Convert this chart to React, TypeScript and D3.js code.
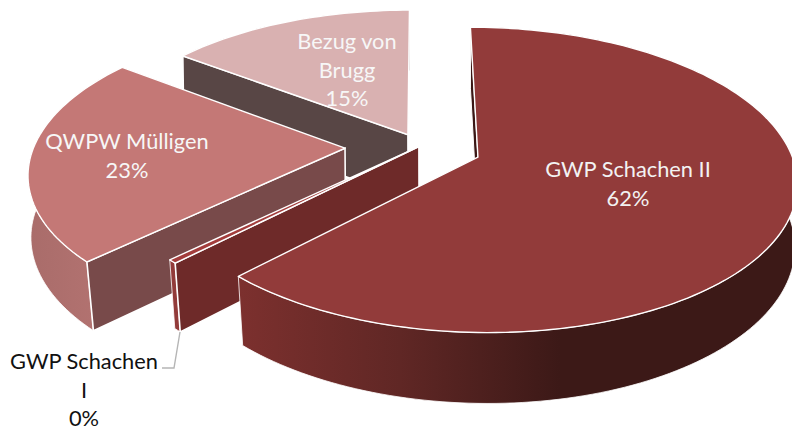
import React from "react";
import * as d3 from "d3";

const names = ["GWP Schachen II", "GWP Schachen I", "QWPW Mülligen", "Bezug von Brugg"];
const shares = [62.35, 0.4, 22.5, 14.75];
const explosions = [0.199, 0.005, 0.241, 0.088];
const topColors = ["#923b3a", "#a33d3c", "#c47876", "#d9b1b1"];
const cutColors = ["#3a1715", "#6e2a29", "#784a4a", "#584645"];

const W = 792, H = 430;
const CX = 420, CY = 146, A = 311, B = 146, P = 0.1475;
const DEPTH = 65, VX = 480;

type Pt = [number, number];
const proj = (U: number, V: number): Pt => {
  const s = 1 / (1 + P * V);
  return [CX + A * U * s, CY - B * V * s];
};
const drop = (U: number, V: number): Pt => {
  const s = 1 / (1 + P * V);
  const [x, y] = proj(U, V);
  const shrink = 0.003 + 0.019 * Math.max(0, -V);
  return [x + (VX - x) * shrink, y + DEPTH * Math.sqrt(s)];
};

const arcs = d3.pie<number>().sort(null).value((d) => d)(shares);
const line = d3.line<Pt>();

const slices = arcs.map((a, i) => {
  const mid = (a.startAngle + a.endAngle) / 2;
  const ox = explosions[i] * Math.sin(mid);
  const oy = explosions[i] * Math.cos(mid);
  const n = Math.max(2, Math.ceil((a.endAngle - a.startAngle) * 40));
  const thetas = d3.range(n + 1).map((k) => a.startAngle + ((a.endAngle - a.startAngle) * k) / n);
  const uv = thetas.map((t) => [ox + Math.sin(t), oy + Math.cos(t)]);
  const rim = uv.map(([u, v]) => proj(u, v));
  const rimLow = uv.map(([u, v]) => drop(u, v));
  const apex = proj(ox, oy);
  const apexLow = drop(ox, oy);
  return {
    i,
    top: line([apex, ...rim])! + "Z",
    outer: line([...rim, ...rimLow.slice().reverse()])! + "Z",
    cut: line([apex, rim[0], rimLow[0], apexLow])! + "Z",
  };
});

const labelStyle = { fontFamily: "Lato, 'Open Sans', sans-serif", fontSize: 21.8 };

const labels: { lines: string[]; x: number; y: number; fill: string }[] = [
  { lines: ["GWP Schachen II", Math.round(shares[0]) + "%"], x: 628, y: 177, fill: "#f2f2f2" },
  { lines: ["GWP Schachen", "I", Math.round(shares[1]) + "%"], x: 84, y: 369, fill: "#111" },
  { lines: ["QWPW Mülligen", Math.round(shares[2]) + "%"], x: 127, y: 149, fill: "#f7f7f7" },
  { lines: ["Bezug von", "Brugg", Math.round(shares[3]) + "%"], x: 347, y: 49, fill: "#f7f7f7" },
];

const leader = line([[180, 332], [174, 368], [162, 368]] as Pt[])!;

export default function App() {
  const order = [3, 2, 1, 0];
  return (
    <svg
      width={W}
      height={H}
      viewBox={`0 0 ${W} ${H}`}
      style={{ position: "absolute", left: 0, top: 0, display: "block", background: "#fff" }}
    >
      <defs>
        <linearGradient id="g0" gradientUnits="userSpaceOnUse" x1={240} x2={560} y1={0} y2={0}>
          <stop offset="0" stopColor="#7c302e" />
          <stop offset="0.5" stopColor="#602725" />
          <stop offset="1" stopColor="#3c1917" />
        </linearGradient>
        <linearGradient id="g2" gradientUnits="userSpaceOnUse" x1={27} x2={95} y1={0} y2={0}>
          <stop offset="0" stopColor="#a96c6a" />
          <stop offset="1" stopColor="#b27270" />
        </linearGradient>
      </defs>
      {order.map((i) => {
        const s = slices[i];
        const outerFill = i === 0 ? "url(#g0)" : i === 2 ? "url(#g2)" : i === 1 ? topColors[0] : cutColors[i];
        return (
          <g key={i}>
            <path d={s.outer} fill={outerFill} stroke="#fff" strokeWidth={0.8} />
            <path d={s.cut} fill={cutColors[i]} stroke="#fff" strokeWidth={i === 0 ? 1 : 1.6} />
            <path d={s.top} fill={topColors[i]} stroke="#fff" strokeWidth={1.4} strokeLinejoin="round" />
          </g>
        );
      })}
      <path d={leader} fill="none" stroke="#b5b5b5" strokeWidth={1.4} />
      {labels.map((l, i) => (
        <text key={i} textAnchor="middle" fill={l.fill} style={labelStyle}>
          {l.lines.map((t, k) => (
            <tspan key={k} x={l.x} y={l.y + k * 28.7}>
              {t}
            </tspan>
          ))}
        </text>
      ))}
    </svg>
  );
}
